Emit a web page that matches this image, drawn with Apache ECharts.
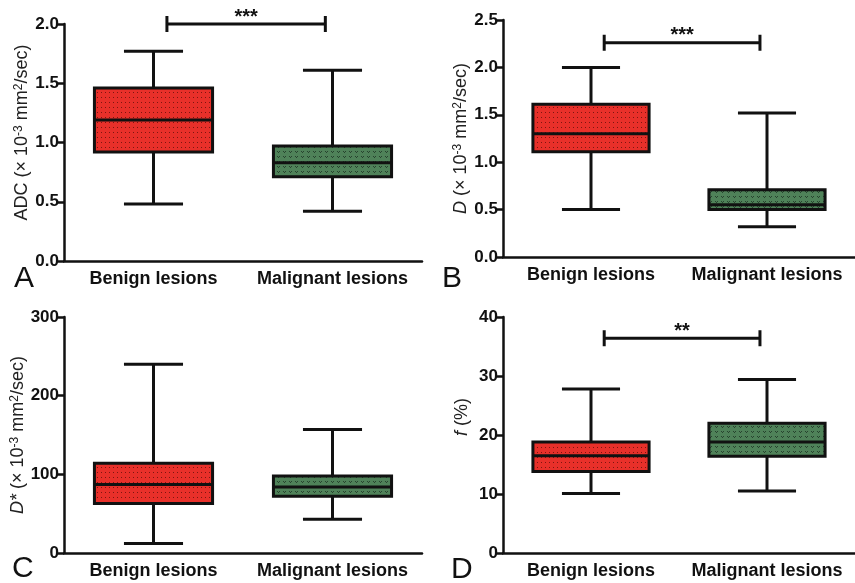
<!DOCTYPE html>
<html><head><meta charset="utf-8">
<script src="https://cdn.jsdelivr.net/npm/echarts@6/dist/echarts.min.js"></script>
<style>html,body{margin:0;padding:0;background:#fff}#c{width:855px;height:583px}</style>
</head><body><div id="c"></div>
<script>
// ---- data ----
const categories = ['Benign lesions', 'Malignant lesions'];
// each box: [min, q1, median, q3, max]
const adcBenign = [0.48, 0.92, 1.19, 1.46, 1.77];
const adcMalignant = [0.42, 0.71, 0.83, 0.97, 1.61];
const dBenign = [0.50, 1.11, 1.30, 1.61, 2.00];
const dMalignant = [0.32, 0.50, 0.55, 0.71, 1.52];
const dStarBenign = [12, 63, 87, 114, 240];
const dStarMalignant = [43, 72, 84, 98, 157];
const fBenign = [10.1, 13.8, 16.5, 18.8, 27.8];
const fMalignant = [10.5, 16.4, 18.8, 22.0, 29.4];
// y axis ticks: [min, max, interval, decimals]
const ticksA = [0, 2.0, 0.5, 1];
const ticksB = [0, 2.5, 0.5, 1];
const ticksC = [0, 300, 100, 0];
const ticksD = [0, 40, 10, 0];
// significance: [fromCat, toCat, yValue]
const sigA = [0, 1, 2.0];
const sigB = [0, 1, 2.26];
const sigD = [0, 1, 36.4];
const sigLabelA = '***';
const sigLabelB = '***';
const sigLabelD = '**';
const panelLetters = ['A', 'B', 'C', 'D'];

// ---- styling ----
const FONT = '"Liberation Sans", Arial, Helvetica, sans-serif';
const INK = '#111';

function makePattern(bg, fg, kind) {
  const c = document.createElement('canvas');
  if (kind === 'dots') {
    c.width = 4; c.height = 5;
    const g = c.getContext('2d');
    g.fillStyle = bg; g.fillRect(0, 0, 4, 5);
    g.fillStyle = fg; g.fillRect(1, 2, 1, 1);
  } else {
    c.width = 6; c.height = 5;
    const g = c.getContext('2d');
    g.fillStyle = bg; g.fillRect(0, 0, 6, 5);
    g.fillStyle = fg;
    g.fillRect(1, 1, 1, 1); g.fillRect(3, 1, 1, 1); g.fillRect(2, 2, 1, 1);
  }
  return { image: c, repeat: 'repeat' };
}
const patRed = makePattern('#e8302a', '#7d1510', 'dots');
const patGreen = makePattern('#4f8259', '#27432e', 'wave');
const fills = [patRed, patGreen];

function boxRender(params, api) {
  const xi = api.value(0);
  const v = [1, 2, 3, 4, 5].map(i => api.value(i));
  const band = api.size([1, 0])[0];
  const cx = api.coord([xi, v[0]])[0];
  const y = v.map(val => api.coord([xi, val])[1]);
  const hw = band * 0.33, cw = band * 0.165;
  const ls = { stroke: INK, lineWidth: 3 };
  return {
    type: 'group',
    children: [
      { type: 'line', shape: { x1: cx, y1: y[4], x2: cx, y2: y[3] }, style: ls },
      { type: 'line', shape: { x1: cx, y1: y[1], x2: cx, y2: y[0] }, style: ls },
      { type: 'line', shape: { x1: cx - cw, y1: y[4], x2: cx + cw, y2: y[4] }, style: ls },
      { type: 'line', shape: { x1: cx - cw, y1: y[0], x2: cx + cw, y2: y[0] }, style: ls },
      { type: 'rect', shape: { x: cx - hw, y: y[3], width: 2 * hw, height: y[1] - y[3] },
        style: { fill: fills[params.dataIndex], stroke: INK, lineWidth: 3 } },
      { type: 'line', shape: { x1: cx - hw, y1: y[2], x2: cx + hw, y2: y[2] }, style: ls }
    ]
  };
}

function sigRenderFactory(label) {
  return function (params, api) {
    const band = api.size([1, 0])[0];
    const p0 = api.coord([api.value(0), api.value(2)]);
    const p1 = api.coord([api.value(1), api.value(2)]);
    const a = p0[0] + band * 0.075, b = p1[0] - band * 0.04, y = p0[1];
    const ls = { stroke: INK, lineWidth: 3 };
    return {
      type: 'group',
      children: [
        { type: 'line', shape: { x1: a, y1: y, x2: b, y2: y }, style: ls },
        { type: 'line', shape: { x1: a, y1: y - 8, x2: a, y2: y + 8 }, style: ls },
        { type: 'line', shape: { x1: b, y1: y - 8, x2: b, y2: y + 8 }, style: ls },
        { type: 'text', style: { text: label, x: (a + b) / 2, y: y - 7, align: 'center',
          verticalAlign: 'middle', fontSize: 20, fontWeight: 'bold', fontFamily: FONT, fill: INK } }
      ]
    };
  };
}

const grids = [
  { left: 64, top: 24, width: 358, height: 237 },
  { left: 503, top: 20, width: 354, height: 237 },
  { left: 64, top: 317, width: 358, height: 236 },
  { left: 503, top: 317, width: 354, height: 236 }
];

const supRich = {
  sup: { fontSize: 12, fontFamily: FONT, color: '#222', verticalAlign: 'top', padding: [0, 0, 7, 0] },
  i: { fontSize: 18, fontFamily: FONT, color: '#222', fontStyle: 'italic' }
};
const names = [
  'ADC (× 10{sup|-3} mm{sup|2}/sec)',
  '{i|D} (× 10{sup|-3} mm{sup|2}/sec)',
  '{i|D*} (× 10{sup|-3} mm{sup|2}/sec)',
  '{i|f} (%)'
];
const namePads = [[0, 0, 0, 20], [0, 0, 0, 0], [0, 0, 0, 0], [0, 0, 0, 36]];
const ticks = [ticksA, ticksB, ticksC, ticksD];

const xAxes = grids.map((g, i) => ({
  type: 'category', gridIndex: i, data: categories,
  axisLine: { lineStyle: { color: INK, width: 2.5 } },
  axisTick: { alignWithLabel: true, interval: 0, length: 6, lineStyle: { color: INK, width: 2.5 } },
  axisLabel: { interval: 0, hideOverlap: false, color: INK, fontSize: 18, fontWeight: 'bold', fontFamily: FONT, margin: 9 },
  splitLine: { show: false }
}));
const yAxes = grids.map((g, i) => ({
  type: 'value', gridIndex: i,
  min: ticks[i][0], max: ticks[i][1], interval: ticks[i][2],
  name: names[i], nameLocation: 'middle', nameGap: 32,
  nameTextStyle: { fontSize: 18, fontFamily: FONT, color: '#222', rich: supRich, padding: namePads[i] },
  axisLine: { show: true, lineStyle: { color: INK, width: 2.5 } },
  axisTick: { show: true, length: 6, lineStyle: { color: INK, width: 2.5 } },
  axisLabel: { color: INK, fontSize: 17, fontWeight: 'bold', fontFamily: FONT, margin: 5,
    formatter: (v) => v.toFixed(ticks[i][3]) },
  splitLine: { show: false }
}));

const boxSets = [
  [adcBenign, adcMalignant], [dBenign, dMalignant],
  [dStarBenign, dStarMalignant], [fBenign, fMalignant]
];
const series = [];
boxSets.forEach((set, i) => {
  series.push({
    type: 'custom', xAxisIndex: i, yAxisIndex: i, renderItem: boxRender,
    encode: { x: 0, y: [1, 2, 3, 4, 5] },
    data: set.map((b, k) => [k].concat(b)), silent: true, clip: false
  });
});
[[0, sigA, sigLabelA], [1, sigB, sigLabelB], [3, sigD, sigLabelD]].forEach(([i, s, lab]) => {
  series.push({
    type: 'custom', xAxisIndex: i, yAxisIndex: i, renderItem: sigRenderFactory(lab),
    encode: { x: 0, y: 2 }, data: [s], silent: true, clip: false
  });
});

const letterPos = [[14, 264], [442, 264], [12, 554], [451, 555]];
const graphic = panelLetters.map((t, i) => ({
  type: 'text', left: letterPos[i][0], top: letterPos[i][1],
  style: { text: t, fontSize: 30, fontFamily: FONT, fill: INK }
}));

const chart = echarts.init(document.getElementById('c'));
chart.setOption({
  animation: false,
  backgroundColor: '#fff',
  grid: grids,
  xAxis: xAxes,
  yAxis: yAxes,
  series: series,
  graphic: graphic
});
</script></body></html>
